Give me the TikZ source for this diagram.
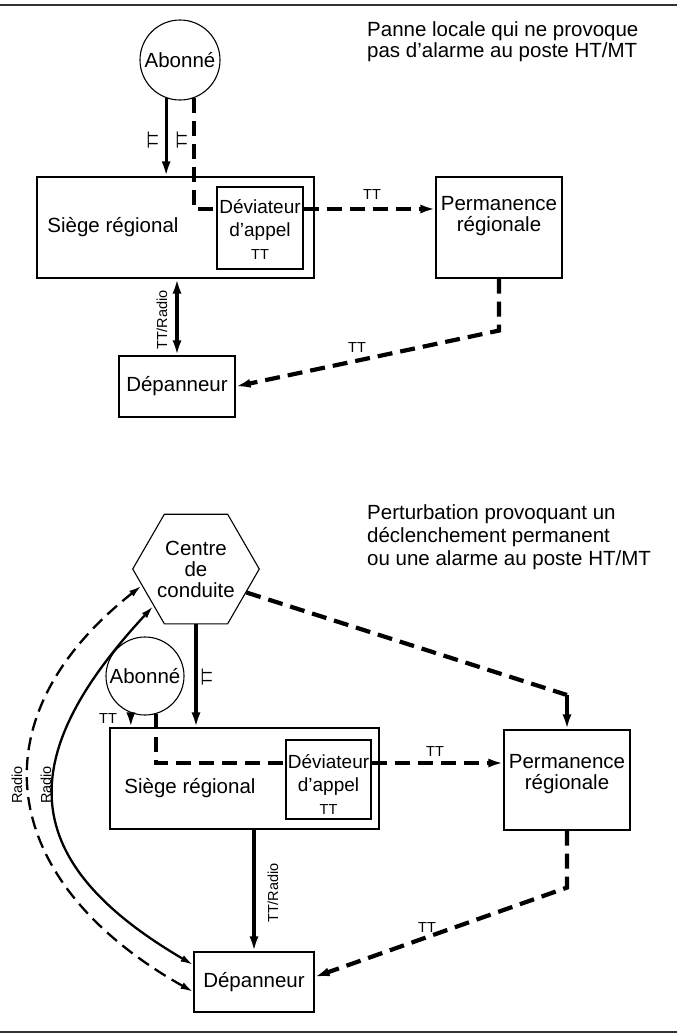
\documentclass[tikz,border=0pt]{standalone}
\usepackage{fontspec}
\setmainfont{Liberation Sans}
\usetikzlibrary{arrows.meta,shapes.geometric}

\begin{document}
\begin{tikzpicture}[x=1pt,y=-1pt,
  boite/.style={draw,line width=1.1pt,inner sep=0pt},
  grand/.style={font=\fontsize{20.5}{21}\selectfont,align=center,inner sep=0pt},
  moyen/.style={font=\fontsize{19}{23}\selectfont,align=center,inner sep=0pt},
  petit/.style={font=\fontsize{14.5}{15}\selectfont,inner sep=1pt},
  plein/.style={line width=3.2pt,-{Latex[length=15pt,width=9pt]}},
  deuxsens/.style={line width=3.2pt,{Latex[length=15pt,width=9pt]}-{Latex[length=15pt,width=9pt]}},
  tirets/.style={line width=4.2pt,dash pattern=on 15pt off 8pt,-{Latex[length=15pt,width=9pt]}},
  courbe/.style={line width=2.3pt,{Latex[length=13pt,width=7pt]}-{Latex[length=13pt,width=7pt]}}]

\useasboundingbox (0,0) rectangle (677,1034) ;

% filets
\draw[line width=2.6pt,black!80] (0,5) -- (677,5) ;
\draw[line width=2.6pt,black!80] (0,1032) -- (677,1032) ;

% schéma du haut

\node[boite,circle,minimum size=80pt,grand] (abo1) at (180,60) {Abonné} ;
\node[boite,minimum width=277pt,minimum height=101pt] (sie1) at (175.5,227.5) {} ;
\node[grand] (sie1t) at (113,227) {Siège régional} ;
\node[boite,minimum width=86pt,minimum height=82pt] (dev1) at (260,228) {} ;
\node[moyen] (dev1t) at (260,219.5) {Déviateur\\d’appel} ;
\node[petit] (dev1tt) at (260,255) {TT} ;
\node[boite,minimum width=126pt,minimum height=101pt] (per1) at (499,227.5) {} ;
\node[grand] (per1t) at (499,216.5) {Permanence\\régionale} ;
\node[boite,minimum width=116pt,minimum height=61pt,grand] (dep1) at (177,386.5) {Dépanneur} ;
\node[grand,align=left,anchor=west] (leg1) at (367,42) {Panne locale qui ne provoque\\pas d’alarme au poste HT/MT} ;

\draw[plein] (abo1.250) -- (abo1.250 |- sie1.north) ;
\node[petit,rotate=90] (l1) at (153,140) {TT} ;
\draw[tirets,-] (abo1.290) |- ([yshift=19pt]dev1.west) ;
\node[petit,rotate=90] (l2) at (182,140) {TT} ;
\draw[tirets] ([yshift=19pt]dev1.east) -- ([yshift=19pt]dev1.east -| per1.west) ;
\node[petit] (l3) at (372,195) {TT} ;
\draw[deuxsens] (dep1.north) -- (dep1.north |- sie1.south) ;
\node[petit,rotate=90] (l4) at (162,320) {TT/Radio} ;
\draw[tirets] (per1.south) -- ++(0,52) -- (dep1.east) ;
\node[petit] (l5) at (357,348) {TT} ;

% schéma du bas

\node[boite,regular polygon,regular polygon sides=6,minimum size=126pt,grand] (ctr) at (196,569) {Centre\\de\\conduite} ;
\node[boite,circle,minimum size=78pt,grand] (abo2) at (145,676) {Abonné} ;
\node[boite,minimum width=269pt,minimum height=101pt] (sie2) at (244.5,778.5) {} ;
\node[grand] (sie2t) at (190,788) {Siège régional} ;
\node[boite,minimum width=85pt,minimum height=79pt] (dev2) at (328.5,779.5) {} ;
\node[moyen] (dev2t) at (328.5,775) {Déviateur\\d’appel} ;
\node[petit] (dev2tt) at (328.5,810) {TT} ;
\node[boite,minimum width=126pt,minimum height=100pt] (per2) at (567,780) {} ;
\node[grand] (per2t) at (567,774) {Permanence\\régionale} ;
\node[boite,minimum width=120pt,minimum height=60pt,grand] (dep2) at (254,982) {Dépanneur} ;
\node[grand,align=left,anchor=west,font=\fontsize{20.5}{23}\selectfont] (leg2) at (367,537) {Perturbation provoquant un\\déclenchement permanent\\ou une alarme au poste HT/MT} ;

\draw[plein] (ctr.south) -- (ctr.south |- sie2.north) ;
\node[petit,rotate=90] (l6) at (207,677) {TT} ;
\draw[plein] (abo2.249) -- (abo2.249 |- sie2.north) ;
\node[petit] (l7) at (108,719) {TT} ;
\draw[tirets,-] (abo2.286) |- ([yshift=16.5pt]dev2.west) ;
\draw[tirets] ([yshift=16.5pt]dev2.east) -- ([yshift=16.5pt]dev2.east -| per2.west) ;
\node[petit] (l8) at (435,752) {TT} ;
\coordinate (c1) at (567,695) ;
\draw[tirets,-] (ctr.335) -- (c1) ;
\draw[plein] (c1) -- (per2.north) ;
\draw[tirets] (per2.south) -- ++(0,57) -- ([yshift=5pt]dep2.east) ;
\node[petit] (l9) at (427,927) {TT} ;
\draw[plein] (sie2.south -| dep2.north) -- (dep2.north) ;
\node[petit,rotate=90] (l10) at (273,893) {TT/Radio} ;

% liaisons radio
\draw[courbe] (ctr.221) .. controls +(-143,154) and +(-174,-102) .. ([yshift=17pt]dep2.west) ;
\draw[courbe,dash pattern=on 13pt off 7pt] (ctr.197) .. controls +(-172,136) and +(-192,-108) .. ([yshift=-10pt]dep2.west) ;
\node[petit,rotate=90] (l11) at (17,785) {Radio} ;
\node[petit,rotate=90] (l12) at (46,785) {Radio} ;

\end{tikzpicture}
\end{document}
